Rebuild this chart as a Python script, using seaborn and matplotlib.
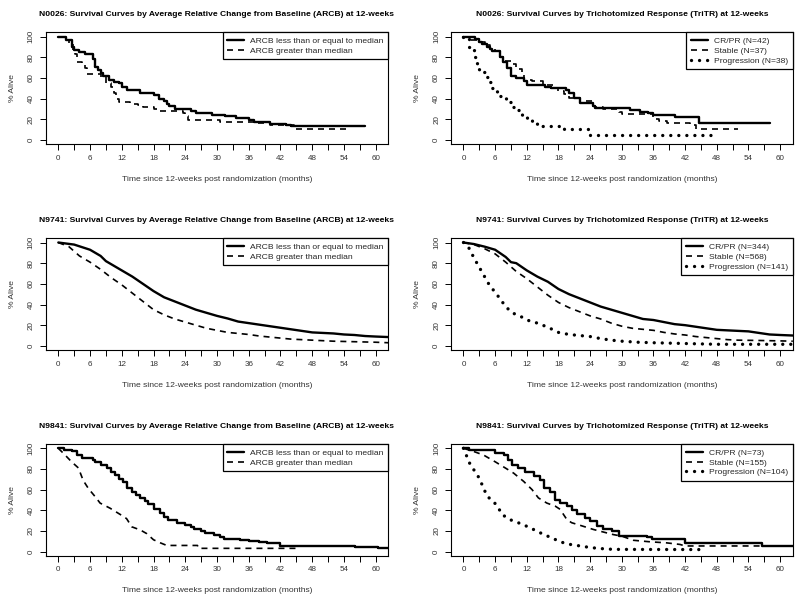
import matplotlib
matplotlib.use("Agg")
import matplotlib.pyplot as plt
import pandas as pd
import seaborn as sns

# ---------------------------------------------------------------
# Survival curves (time in months, % alive)
# ---------------------------------------------------------------

# N0026 - ARCB
n0026_low_t = [0, 1.5, 2.5, 3, 4, 5, 6.5, 7, 7.5, 8, 8.5, 9.5, 10.5, 11.5, 12, 13, 15.5, 18, 19, 20,
               20.5, 21, 22, 25, 26, 29, 31.5, 33.5, 36, 37, 40, 43, 44, 58]
n0026_low_s = [100, 97, 90, 87, 85, 83, 78, 71, 68, 65, 62, 58, 56, 55, 51, 48, 45, 43, 40, 38,
               35, 33, 30, 28, 26, 24, 23, 21, 19, 17, 15.5, 14, 13, 13]
n0026_high_t = [0, 1, 2, 2.8, 3.2, 3.6, 4.5, 5, 5.5, 8, 9, 10, 10.5, 11, 11.5, 13.5, 15, 16, 18, 19,
                23.5, 24, 24.5, 30.5, 37, 40, 44.5, 55]
n0026_high_s = [100, 97, 93, 87, 83, 75, 72, 70, 64, 61, 55, 51, 45, 40, 37, 35, 34, 32, 30, 28,
                26, 23, 19, 17.5, 16, 14, 11, 11]

# N0026 - TriTR
n0026_cr_t = [0, 2.2, 3, 3.5, 4.5, 5, 5.5, 7, 7.5, 8.3, 9, 10, 11.5, 12, 15.5, 16.5, 19.5, 20, 21, 22,
              24.5, 25, 31.5, 33.5, 35, 36, 40, 44.7, 58]
n0026_cr_s = [100, 98, 95, 93, 90, 88, 86, 80, 75, 70, 62, 60, 57, 53, 51, 50, 48, 45, 41, 36,
              33, 31, 29, 27, 26, 24, 22, 16, 16]
n0026_st_t = [0, 1, 3, 4, 5, 6, 7, 7.5, 9, 10, 11, 11.5, 13, 15, 17, 18, 19, 20, 22, 24.5, 25, 26.5,
              29.5, 30, 36, 37, 38.5, 43, 44, 52]
n0026_st_s = [100, 97, 95, 92, 88, 86, 80, 76, 73, 69, 65, 58, 57, 53, 50, 47, 44, 41, 38, 33, 32, 30,
              27, 25, 20, 18, 16, 14, 11, 11]
n0026_pr_t = [0, 1, 2, 2.5, 3, 4, 4.8, 5.5, 6.3, 7, 8, 9, 10, 11, 12, 13, 14, 19, 24, 48]
n0026_pr_s = [100, 90, 80, 72, 66, 61, 56, 50, 45, 42, 37, 32, 29, 24, 19, 16, 13.5, 10.5, 5, 5]

# N9741 - ARCB
n9741_low_t = [0, 3, 6, 8, 9, 10, 12, 14, 16, 18, 20, 22, 24, 26, 28, 30, 32, 34, 36, 38, 40, 42,
               44, 46, 48, 50, 52, 54, 56, 58, 60, 62.4]
n9741_low_s = [100, 98, 93, 87, 82, 79, 73, 67, 60, 53, 47, 43, 39, 35, 32, 29, 26.5, 23.5, 22, 20.5,
               19, 17.5, 16, 14.5, 13, 12.5, 12, 11, 10.5, 9.5, 9, 8.5]
n9741_high_t = [0, 2, 4, 6, 8, 10, 12, 14, 16, 18, 20, 22, 24, 26, 28, 30, 32, 34, 36, 38, 40, 42,
                44, 46, 48, 52, 56, 60, 62.4]
n9741_high_s = [100, 96, 87, 81, 74, 66, 59, 51, 43, 35, 30, 26, 23, 20, 17, 15, 13, 12, 11, 9.5,
                8.5, 7.5, 6.5, 6, 5.5, 4.5, 4, 3.5, 3]

# N9741 - TriTR
n9741_cr_t = [0, 2, 4, 6, 8, 9, 10, 12, 14, 16, 18, 20, 22, 24, 26, 28, 30, 32, 34, 36, 38, 40, 42,
              44, 46, 48, 50, 52, 54, 56, 58, 60, 62.4]
n9741_cr_s = [100, 98.5, 96, 93, 86, 81, 80, 73, 67, 62, 55, 50, 46, 42, 38, 35, 32, 29, 26, 25, 23,
              21, 20, 18.5, 17, 15.5, 15, 14.5, 14, 12.5, 11, 10.5, 10]
n9741_st_t = [0, 2, 4, 6, 8, 10, 12, 14, 16, 18, 20, 22, 24, 26, 28, 30, 32, 34, 36, 38, 40, 42, 44,
              46, 48, 50, 52, 56, 60, 62.4]
n9741_st_s = [100, 98, 94, 89, 81, 72, 65, 57, 49, 42, 37, 33, 29, 26, 22, 19, 17, 16, 15, 13, 11.5,
              10.5, 9, 8, 7, 6, 5.5, 5.2, 4.8, 4.5]
n9741_pr_t = [0, 1, 2, 3, 4, 5, 6, 7, 8, 9, 10, 11, 12, 14, 16, 18, 20, 22, 24, 26, 28, 30, 33, 36,
              40, 44, 48, 62.4]
n9741_pr_s = [100, 95, 85, 76, 67, 58, 52, 45, 38, 33, 30, 28, 25, 22, 18, 13, 11, 10, 9, 7, 5.5,
              4.5, 3.5, 3, 2.5, 2, 1.5, 1.5]

# N9841 - ARCB
n9841_low_t = [0, 1, 2.5, 3.5, 4.4, 6.5, 7, 8, 9.2, 10, 10.7, 11.5, 12.3, 13, 13.9, 14.7, 15.5, 16.3,
               17, 18, 19.3, 20, 20.8, 22.4, 24, 25, 25.6, 27, 27.8, 29.4, 30.5, 31.3, 34.4, 36, 38,
               39.5, 42, 56, 60.5, 62.4]
n9841_low_s = [100, 98, 97, 94, 91, 89, 87, 84, 81, 77, 74, 70, 67, 62, 58, 55, 52, 49, 46, 41, 37,
               34, 31, 28, 26, 24, 22, 20, 18, 16, 14, 12.5, 11.5, 10, 9, 8, 5.5, 4.5, 3.5, 3.5]
n9841_high_t = [0, 1, 2.5, 3.8, 4.7, 5.7, 7, 7.9, 9.8, 11.7, 12.9, 13.9, 15.5, 16.7, 18, 19.3, 20.5,
                26.3, 26.5, 45]
n9841_high_s = [100, 95, 87, 81, 69, 61, 53, 47, 42, 36, 32, 24, 21, 17.5, 11.5, 8.5, 6, 6, 3.2, 3.2]

# N9841 - TriTR
n9841_cr_t = [0, 1, 6, 7.6, 8.5, 9.2, 10.4, 11.7, 13.3, 14.5, 15.2, 16.4, 17.4, 18.3, 19.6, 20.5,
              21.5, 23, 24, 25.3, 26.5, 28.1, 29.4, 34.7, 35.7, 42, 56.5, 62.4]
n9841_cr_s = [100, 98.5, 95, 93.5, 89, 84, 81, 77.5, 73, 69.5, 61.5, 58, 50, 47, 44, 40.5, 36, 32.5,
              29.5, 25, 22, 20, 15.5, 14.5, 12, 8, 5, 5]
n9841_st_t = [0, 1.9, 3.8, 6, 7.6, 9.5, 11.4, 13, 14.2, 15.8, 17.4, 18.3, 19.6, 20.5, 22.4, 24.6,
              26.5, 28.4, 30, 32.2, 35.4, 38.5, 41, 42, 62.4]
n9841_st_s = [100, 97, 93.5, 87, 82, 76, 68, 60, 52, 47, 44, 41, 31, 28, 25, 21.5, 19, 16.5, 15, 11,
              9.5, 8.5, 7, 5.5, 5.5]
n9841_pr_t = [0, 0.4, 1.3, 2.2, 3, 3.8, 4.5, 5.7, 6.6, 7.3, 8.8, 10.1, 11.4, 12.6, 13.9, 15.2, 16.7,
              18.3, 20.2, 22.1, 24, 25.9, 28.4, 45]
n9841_pr_s = [100, 95, 84, 77.5, 71, 61.5, 53.5, 48.5, 42.5, 36, 31, 28.5, 26, 23, 20, 16.5, 13.5,
              9.5, 7, 5.5, 4, 3, 2.2, 2]

arcb_labels = ["ARCB less than or equal to median", "ARCB greater than median"]
x_ticks = list(range(0, 61, 3))
x_ticklabels = [str(v) if v % 6 == 0 else "" for v in x_ticks]
y_ticks = [0, 20, 40, 60, 80, 100]
x_label = "Time since 12-weeks post randomization (months)"
y_label = "% Alive"

# ---------------------------------------------------------------
# style
# ---------------------------------------------------------------
sns.set_theme(style="white")
plt.rcParams.update({
    "font.family": ["Liberation Sans", "DejaVu Sans"],
    "axes.edgecolor": "black",
    "axes.linewidth": 0.8,
})

TEXT_GREY = "#333333"
STYLES = {
    "solid":  dict(linestyle="-", linewidth=1.7),
    "dashed": dict(linestyle=(0, (3.6, 3.0)), linewidth=1.2),
    "dotted": dict(linestyle=(0, (0.01, 2.4)), linewidth=2.4, dash_capstyle="round"),
}


def draw_curve(ax, t, s, style, label, steps=True):
    df = pd.DataFrame({"time": t, "surv": s})
    kw = dict(STYLES[style])
    if steps:
        kw["drawstyle"] = "steps-post"
    sns.lineplot(data=df, x="time", y="surv", color="black", label=label,
                 estimator=None, ax=ax, **kw)


def style_axes(ax, title):
    ax.set_xlim(-2.4, 62.4)
    ax.set_ylim(-4, 104)
    ax.set_xticks(x_ticks)
    ax.set_xticklabels(x_ticklabels)
    ax.set_yticks(y_ticks)
    ax.set_yticklabels([str(v) for v in y_ticks], rotation=90, va="center")
    ax.tick_params(direction="out", length=4.2, width=0.7, pad=3.5,
                   labelsize=5.8, colors="black", labelcolor=TEXT_GREY,
                   bottom=True, left=True)
    for sp in ax.spines.values():
        sp.set_visible(True)
        sp.set_color("black")
        sp.set_linewidth(0.8)
    ax.set_title(title, fontsize=6.1, fontweight="bold", pad=12, color="black")
    ax.set_xlabel(x_label, fontsize=6.1, color=TEXT_GREY, labelpad=10)
    ax.set_ylabel(y_label, fontsize=6.1, color=TEXT_GREY, labelpad=8.5)
    ax.grid(False)
    leg = ax.legend(loc="upper right", borderaxespad=0, fontsize=6.1, frameon=True,
                    fancybox=False, framealpha=1, edgecolor="black",
                    handlelength=2.0, handletextpad=0.7, labelspacing=0.22,
                    borderpad=0.55)
    leg.get_frame().set_linewidth(0.9)


fig = plt.figure(figsize=(8, 6), dpi=100)
fig.patch.set_facecolor("white")

row_bottoms = [0.760, 0.4167, 0.0737]
row_h = 0.186
col_left = [0.057, 0.5635]
col_w = [0.4285, 0.4275]


def make_ax(r, c):
    return fig.add_axes([col_left[c], row_bottoms[r], col_w[c], row_h])


# row 1 : N0026
ax = make_ax(0, 0)
draw_curve(ax, n0026_low_t, n0026_low_s, "solid", arcb_labels[0])
draw_curve(ax, n0026_high_t, n0026_high_s, "dashed", arcb_labels[1])
style_axes(ax, "N0026: Survival Curves by Average Relative Change from Baseline (ARCB) at 12-weeks")

ax = make_ax(0, 1)
draw_curve(ax, n0026_cr_t, n0026_cr_s, "solid", "CR/PR (N=42)")
draw_curve(ax, n0026_st_t, n0026_st_s, "dashed", "Stable (N=37)")
draw_curve(ax, n0026_pr_t, n0026_pr_s, "dotted", "Progression (N=38)")
style_axes(ax, "N0026: Survival Curves by Trichotomized Response (TriTR) at 12-weeks")

# row 2 : N9741
ax = make_ax(1, 0)
draw_curve(ax, n9741_low_t, n9741_low_s, "solid", arcb_labels[0], steps=False)
draw_curve(ax, n9741_high_t, n9741_high_s, "dashed", arcb_labels[1], steps=False)
style_axes(ax, "N9741: Survival Curves by Average Relative Change from Baseline (ARCB) at 12-weeks")

ax = make_ax(1, 1)
draw_curve(ax, n9741_cr_t, n9741_cr_s, "solid", "CR/PR (N=344)", steps=False)
draw_curve(ax, n9741_st_t, n9741_st_s, "dashed", "Stable (N=568)", steps=False)
draw_curve(ax, n9741_pr_t, n9741_pr_s, "dotted", "Progression (N=141)", steps=False)
style_axes(ax, "N9741: Survival Curves by Trichotomized Response (TriTR) at 12-weeks")

# row 3 : N9841
ax = make_ax(2, 0)
draw_curve(ax, n9841_low_t, n9841_low_s, "solid", arcb_labels[0])
draw_curve(ax, n9841_high_t, n9841_high_s, "dashed", arcb_labels[1], steps=False)
style_axes(ax, "N9841: Survival Curves by Average Relative Change from Baseline (ARCB) at 12-weeks")

ax = make_ax(2, 1)
draw_curve(ax, n9841_cr_t, n9841_cr_s, "solid", "CR/PR (N=73)")
draw_curve(ax, n9841_st_t, n9841_st_s, "dashed", "Stable (N=155)", steps=False)
draw_curve(ax, n9841_pr_t, n9841_pr_s, "dotted", "Progression (N=104)", steps=False)
style_axes(ax, "N9841: Survival Curves by Trichotomized Response (TriTR) at 12-weeks")

fig.savefig("out.png", dpi=100, facecolor="white")
